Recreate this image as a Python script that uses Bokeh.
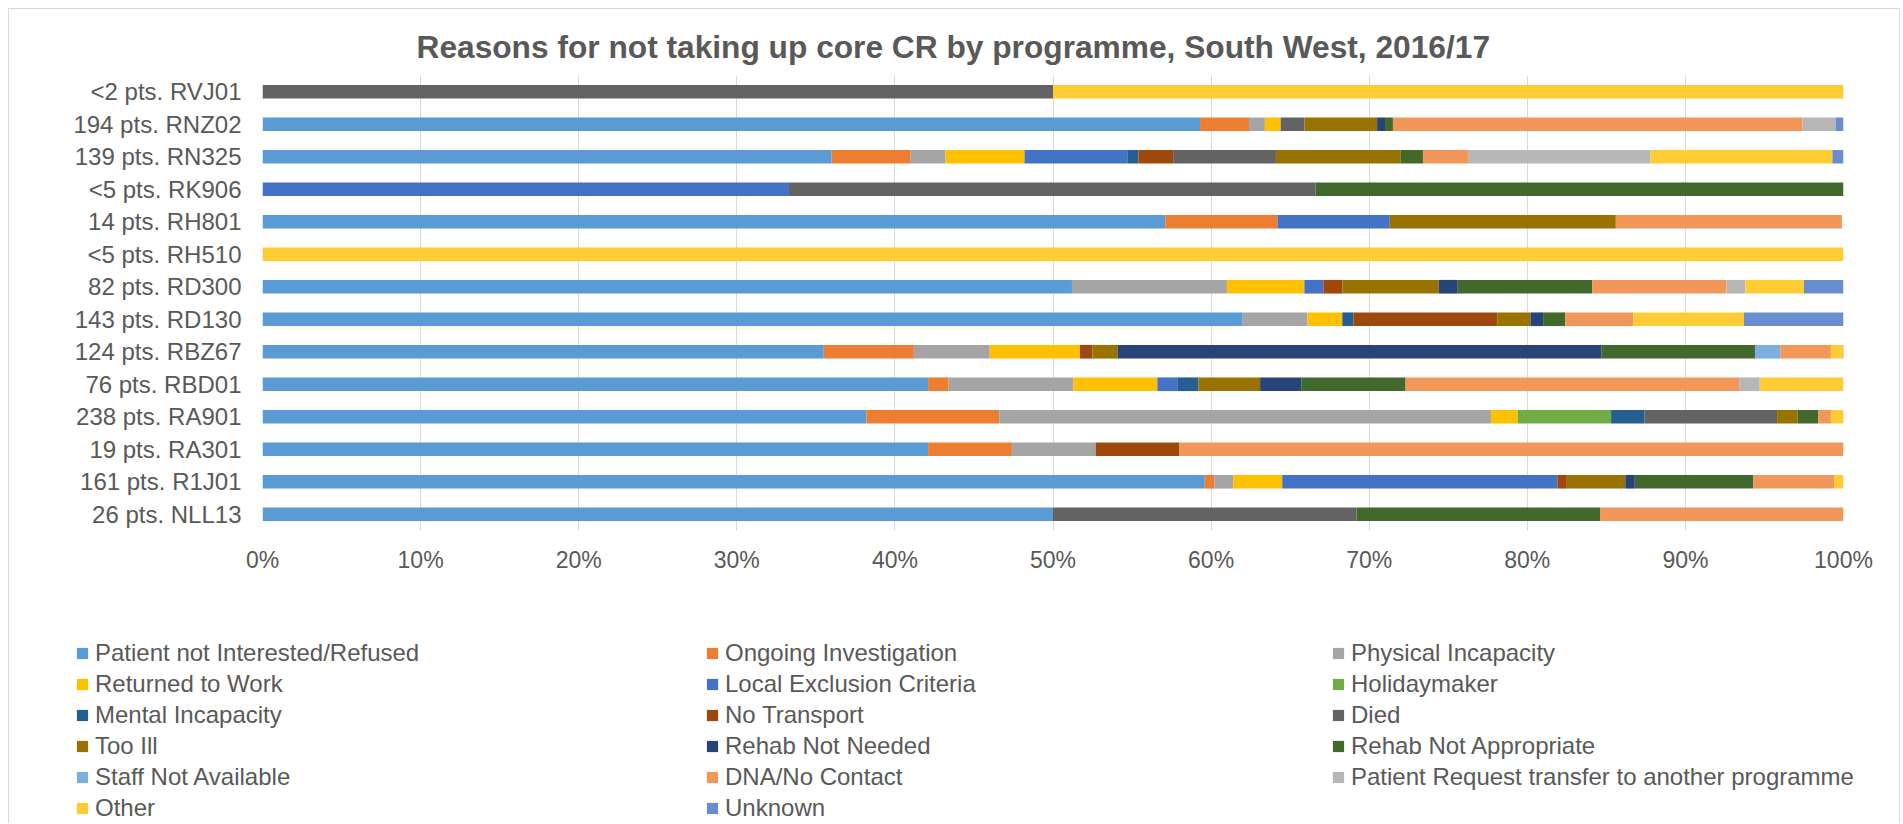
from bokeh.plotting import figure
from bokeh.models import Legend, LegendItem, FactorRange, FixedTicker, Range1d, ColumnDataSource
from bokeh.embed import file_html
from bokeh.resources import INLINE

# ---------------- data ----------------
programmes = ["26 pts. NLL13", "161 pts. R1J01", "19 pts. RA301", "238 pts. RA901",
              "76 pts. RBD01", "124 pts. RBZ67", "143 pts. RD130", "82 pts. RD300",
              "<5 pts. RH510", "14 pts. RH801", "<5 pts. RK906", "139 pts. RN325",
              "194 pts. RNZ02", "<2 pts. RVJ01"]

reasons = ["Patient not Interested/Refused", "Ongoing Investigation", "Physical Incapacity",
           "Returned to Work", "Local Exclusion Criteria", "Holidaymaker",
           "Mental Incapacity", "No Transport", "Died",
           "Too Ill", "Rehab Not Needed", "Rehab Not Appropriate",
           "Staff Not Available", "DNA/No Contact", "Patient Request transfer to another programme",
           "Other", "Unknown"]

colors = ["#5B9BD5", "#ED7D31", "#A5A5A5", "#FFC000", "#4472C4", "#70AD47",
          "#255E91", "#9E480E", "#636363", "#997300", "#264478", "#43682B",
          "#7CAFDD", "#F1975A", "#B7B7B7", "#FFCD33", "#698ED0"]

# percentages, in programme order (bottom to top)
patient_not_interested = [50.0, 59.6, 42.1, 38.2, 42.1, 35.5, 62.0, 51.2, 0, 57.1, 0, 36.0, 59.3, 0]
ongoing_investigation  = [0, 0.6, 5.3, 8.4, 1.3, 5.7, 0, 0, 0, 7.1, 0, 5.0, 3.1, 0]
physical_incapacity    = [0, 1.2, 5.3, 31.1, 7.9, 4.8, 4.1, 9.8, 0, 0, 0, 2.2, 1.0, 0]
returned_to_work       = [0, 3.1, 0, 1.7, 5.3, 5.7, 2.2, 4.9, 0, 0, 0, 5.0, 1.0, 0]
local_exclusion        = [0, 17.4, 0, 0, 1.3, 0, 0, 1.2, 0, 7.1, 33.3, 6.5, 0, 0]
holidaymaker           = [0, 0, 0, 5.9, 0, 0, 0, 0, 0, 0, 0, 0, 0, 0]
mental_incapacity      = [0, 0, 0, 2.1, 1.3, 0, 0.7, 0, 0, 0, 0, 0.7, 0, 0]
no_transport           = [0, 0.6, 5.3, 0, 0, 0.8, 9.1, 1.2, 0, 0, 0, 2.2, 0, 0]
died                   = [19.2, 0, 0, 8.4, 0, 0, 0, 0, 0, 0, 33.3, 6.5, 1.5, 50.0]
too_ill                = [0, 3.7, 0, 1.3, 3.9, 1.6, 2.1, 6.1, 0, 14.3, 0, 7.9, 4.6, 0]
rehab_not_needed       = [0, 0.6, 0, 0, 2.6, 30.6, 0.8, 1.2, 0, 0, 0, 0, 0.5, 0]
rehab_not_appropriate  = [15.4, 7.5, 0, 1.3, 6.6, 9.7, 1.4, 8.5, 0, 0, 33.4, 1.4, 0.5, 0]
staff_not_available    = [0, 0, 0, 0, 0, 1.6, 0, 0, 0, 0, 0, 0, 0, 0]
dna_no_contact         = [15.4, 5.1, 42.0, 0.8, 21.1, 3.2, 4.3, 8.5, 0, 14.3, 0, 2.9, 25.9, 0]
transfer_request       = [0, 0, 0, 0, 1.3, 0, 0, 1.2, 0, 0, 0, 11.5, 2.1, 0]
other                  = [0, 0.6, 0, 0.8, 5.3, 0.9, 7.0, 3.7, 100.0, 0, 0, 11.5, 0, 50.0]
unknown                = [0, 0, 0, 0, 0, 0, 6.3, 2.5, 0, 0, 0, 0.7, 0.5, 0]

series = [patient_not_interested, ongoing_investigation, physical_incapacity, returned_to_work,
          local_exclusion, holidaymaker, mental_incapacity, no_transport, died, too_ill,
          rehab_not_needed, rehab_not_appropriate, staff_not_available, dna_no_contact,
          transfer_request, other, unknown]

tick_values = [0, 10, 20, 30, 40, 50, 60, 70, 80, 90, 100]
tick_labels = ["0%", "10%", "20%", "30%", "40%", "50%", "60%", "70%", "80%", "90%", "100%"]

title_text = "Reasons for not taking up core CR by programme, South West, 2016/17"

# ---------------- plot ----------------
FONT = "Liberation Sans"
TXT = "#595959"
BORDER = "1px solid #D9D9D9"
W = 1892

keys = ["s%d" % i for i in range(len(reasons))]
data = {"programme": programmes}
for k, s in zip(keys, series):
    data[k] = s
source = ColumnDataSource(data)

p = figure(y_range=FactorRange(*programmes), x_range=Range1d(0, 100),
           width=W, height=600, output_backend="svg", toolbar_location=None,
           min_border_left=253, min_border_right=58, min_border_top=66, min_border_bottom=79)
p.margin = (8, 0, 0, 8)
p.styles = {"border-top": BORDER, "border-left": BORDER, "border-right": BORDER}

renderers = p.hbar_stack(keys, y="programme", height=0.42, color=colors, source=source,
                         line_color=None)

p.outline_line_color = None
p.background_fill_color = "white"
p.border_fill_color = "white"

p.title.text = title_text
p.title.align = "left"
p.title.offset = 154
p.title.text_font = FONT
p.title.text_font_size = "31.7px"
p.title.text_font_style = "bold"
p.title.text_color = TXT
p.title.standoff = 21

p.xaxis.ticker = FixedTicker(ticks=tick_values)
p.xaxis.major_label_overrides = {v: l for v, l in zip(tick_values, tick_labels)}
p.xgrid.ticker = FixedTicker(ticks=tick_values)
p.xgrid.grid_line_color = "#D9D9D9"
p.ygrid.grid_line_color = None

for ax in (p.xaxis[0], p.yaxis[0]):
    ax.axis_line_color = None
    ax.major_tick_line_color = None
    ax.minor_tick_line_color = None
    ax.major_tick_out = 0
    ax.major_tick_in = 0
    ax.major_label_text_font = FONT
    ax.major_label_text_color = TXT
p.xaxis.major_label_text_font_size = "23px"
p.yaxis.major_label_text_font_size = "24px"
p.xaxis.major_label_standoff = 16
p.yaxis.major_label_standoff = 21

# ---------------- legend panel ----------------
H2 = 215
p2 = figure(width=W, height=H2, output_backend="svg", toolbar_location=None,
            x_axis_location=None, y_axis_location=None,
            x_range=Range1d(0, 1), y_range=Range1d(0, 1),
            min_border_left=0, min_border_right=0, min_border_top=0, min_border_bottom=0)
p2.margin = (0, 0, 0, 8)
p2.styles = {"border-left": BORDER, "border-right": BORDER}
p2.outline_line_color = None
p2.xgrid.visible = False
p2.ygrid.visible = False
# zero-width swatch renderers, used only to give the legend its colour keys
swatches = [p2.hbar(y=[0], left=[0], right=[0], height=0, fill_color=c, line_color=None)
            for c in colors]

col_x = [66, 696, 1322]
for c in range(3):
    idx = list(range(c, len(reasons), 3))
    items = [LegendItem(label=reasons[i], renderers=[swatches[i]]) for i in idx]
    bottom = H2 - 29.5 - 31 * len(idx)
    lg = Legend(items=items, location=(col_x[c], bottom), orientation="vertical",
                label_text_font=FONT, label_text_font_size="24px", label_text_color=TXT,
                glyph_width=14, glyph_height=14, label_standoff=6, label_height=31,
                spacing=0, padding=0, margin=0, border_line_color=None,
                background_fill_alpha=0)
    p2.add_layout(lg, "center")

open("out.html", "w").write(file_html([p, p2], INLINE))
